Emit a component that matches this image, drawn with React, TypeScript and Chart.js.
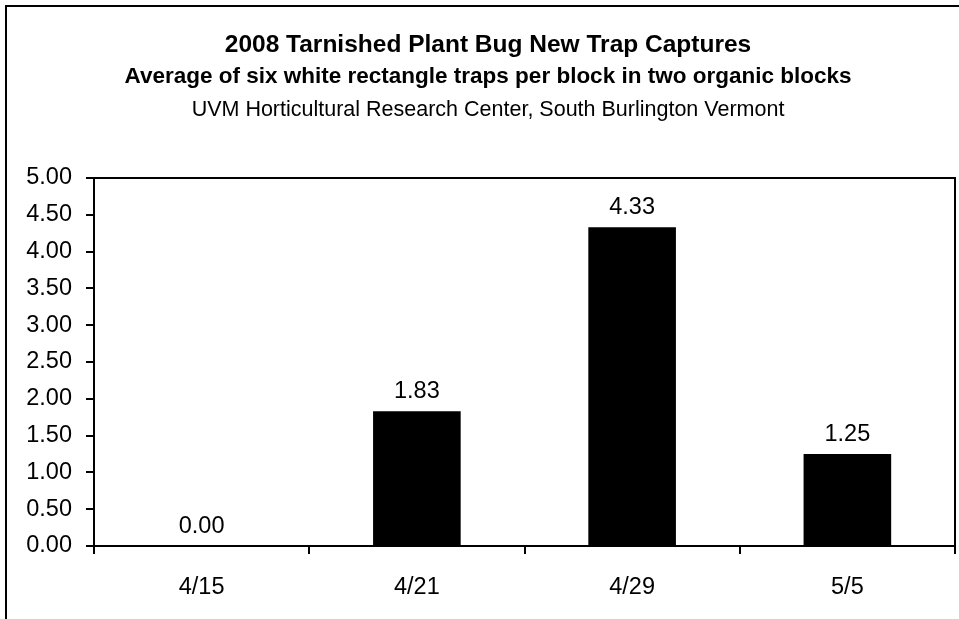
import React, { useEffect, useRef } from "react";
import { Chart, registerables } from "chart.js";

Chart.register(...registerables);

const categories = ["4/15", "4/21", "4/29", "5/5"];
const captures = [0.0, 1.83, 4.33, 1.25];
const yTickMin = 0;
const yTickMax = 5;
const yTickStep = 0.5;
const titleLines = [
  "2008 Tarnished Plant Bug New Trap Captures",
  "Average of six white rectangle traps per block in two organic blocks",
  "UVM Horticultural Research Center, South Burlington Vermont",
];

const FONT = '"Liberation Sans", Arial, Helvetica, sans-serif';

const decorPlugin = {
  id: "decor",
  afterDraw(chart: any) {
    const ctx = chart.ctx;
    const area = chart.chartArea;
    ctx.save();
    // outer frame
    ctx.strokeStyle = "#000";
    ctx.lineWidth = 2;
    ctx.strokeRect(6, 6, 2000, 2000);
    // plot area top and right border
    ctx.beginPath();
    ctx.moveTo(area.left, area.top);
    ctx.lineTo(area.right, area.top);
    ctx.lineTo(area.right, area.bottom);
    ctx.stroke();
    // titles
    ctx.fillStyle = "#000";
    ctx.textAlign = "center";
    ctx.textBaseline = "alphabetic";
    const cx = 488;
    ctx.font = `bold 24.5px ${FONT}`;
    ctx.fillText(titleLines[0], cx, 52);
    ctx.font = `bold 22.5px ${FONT}`;
    ctx.fillText(titleLines[1], cx, 83);
    ctx.font = `21.5px ${FONT}`;
    ctx.fillText(titleLines[2], cx, 116);
    // data labels
    ctx.font = `23.5px ${FONT}`;
    const meta = chart.getDatasetMeta(0);
    meta.data.forEach((bar: any, i: number) => {
      const v = chart.data.datasets[0].data[i] as number;
      ctx.fillText(v.toFixed(2), bar.x, bar.y - 13);
    });
    ctx.restore();
  },
};

export default function App() {
  const ref = useRef<HTMLCanvasElement | null>(null);
  useEffect(() => {
    document.body.style.margin = "0";
    const canvas = ref.current!;
    const chart = new Chart(canvas, {
      type: "bar",
      data: {
        labels: categories,
        datasets: [
          {
            data: captures,
            backgroundColor: "#000000",
            borderWidth: 0,
            barPercentage: 0.407,
            categoryPercentage: 1,
          },
        ],
      },
      options: {
        responsive: false,
        animation: false,
        devicePixelRatio: 1,
        layout: { padding: { left: 0, right: 4, top: 178, bottom: 0 } },
        plugins: {
          legend: { display: false },
          title: { display: false },
          tooltip: { enabled: false },
        },
        scales: {
          x: {
            grid: {
              offset: true,
              drawOnChartArea: false,
              drawTicks: true,
              tickLength: 8,
              color: "#000",
              lineWidth: 2,
            },
            border: { display: true, color: "#000", width: 2 },
            ticks: {
              color: "#000",
              font: { family: FONT, size: 23.5 },
              padding: 19,
              maxRotation: 0,
            },
            afterFit(scale: any) {
              scale.height = 73;
            },
          },
          y: {
            min: yTickMin,
            max: yTickMax,
            grid: {
              drawOnChartArea: false,
              drawTicks: true,
              tickLength: 8,
              color: "#000",
              lineWidth: 2,
            },
            border: { display: true, color: "#000", width: 2 },
            ticks: {
              stepSize: yTickStep,
              color: "#000",
              font: { family: FONT, size: 23.5 },
              padding: 14,
              callback: (v: any) => Number(v).toFixed(2),
            },
            afterFit(scale: any) {
              scale.width = 94;
            },
          },
        },
      },
      plugins: [decorPlugin],
    });
    return () => chart.destroy();
  }, []);
  return (
    <canvas
      ref={ref}
      width={959}
      height={619}
      style={{ display: "block", width: 959, height: 619 }}
    />
  );
}
